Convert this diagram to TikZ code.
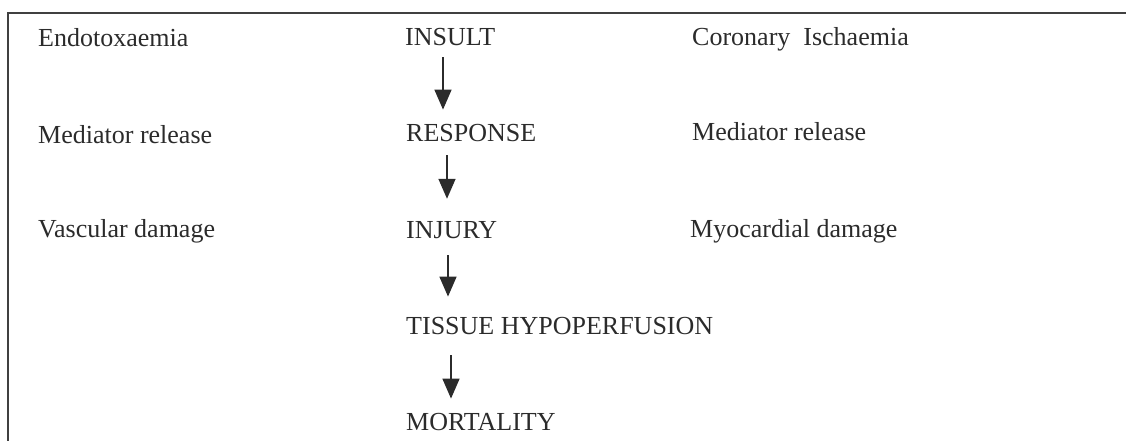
\documentclass[tikz,border=0pt]{standalone}
\usepackage{fontspec}
\setmainfont{Liberation Serif}
\usetikzlibrary{arrows.meta,calc}
\definecolor{ink}{HTML}{2B2B2B}
\begin{document}
\begin{tikzpicture}[x=1pt,y=-1pt,
  lbl/.style={anchor=base west,inner sep=0pt,text=ink,font=\fontsize{26}{30}\selectfont},
  arr/.style={draw=ink,line width=1.6pt,-{Triangle[length=20pt,width=17pt]}}]
\useasboundingbox (0,0) rectangle (1126,441);
\draw[ink!90,line width=2pt] (8,441) -- (8,13) -- (1126,13);
% left column
\node[lbl] (endo) at (38,47) {Endotoxaemia};
\node[lbl] (medl) at (38,143) {Mediator release};
\node[lbl] (vasc) at (38,237) {Vascular damage};
% center column
\node[lbl] (insult) at (405,46) {INSULT};
\node[lbl] (resp) at (406,142) {RESPONSE};
\node[lbl] (injury) at (406,238) {INJURY};
\node[lbl] (tissue) at (406,334) {TISSUE HYPOPERFUSION};
\node[lbl] (mort) at (406,430) {MORTALITY};
% right column
\node[lbl] (coro) at (692,46) {Coronary\ \ Ischaemia};
\node[lbl] (medr) at (692,140) {Mediator release};
\node[lbl] (myo) at (690,237) {Myocardial damage};
% arrows
\draw[arr] ($(insult.south west)+(38,11)$) -- ($(resp.north west)+(37,-15)$);
\draw[arr] ($(resp.south west)+(41,13)$) -- ($(injury.north west)+(41,-22)$);
\draw[arr] ($(injury.south west)+(42,17)$) -- ($(tissue.north west)+(42,-20)$);
\draw[arr] ($(tissue.south west)+(45,21)$) -- ($(mort.north west)+(45,-14)$);
\end{tikzpicture}
\end{document}
